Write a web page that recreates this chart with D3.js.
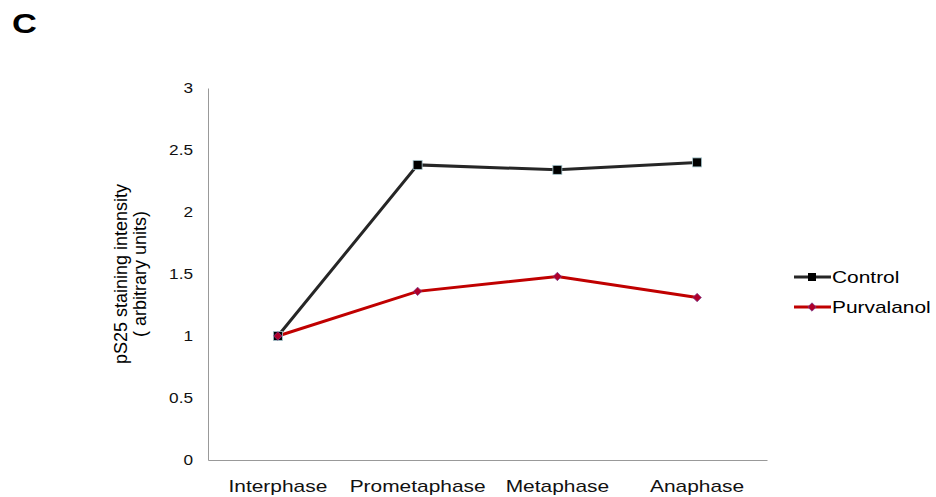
<!DOCTYPE html>
<html><head><meta charset="utf-8">
<script src="https://cdn.jsdelivr.net/npm/d3@7"></script>
<style>body{margin:0;background:#fff;}svg{display:block;font-family:"Liberation Sans",Arial,sans-serif;}</style>
</head><body>
<svg id="c" width="936" height="497"></svg>
<script>
const categories = ["Interphase","Prometaphase","Metaphase","Anaphase"];
const control = [1.0, 2.38, 2.34, 2.40];
const purvalanol = [1.0, 1.36, 1.48, 1.31];
const yTicks = [0,0.5,1,1.5,2,2.5,3];
const seriesNames = ["Control","Purvalanol"];

const K = 1.23; // horizontal stretch of text in the reference
const svg = d3.select("#c");
const x = d3.scaleBand().domain(categories).range([208,767]);
const y = d3.scaleLinear().domain([0,3]).range([460,88]);
const cx = d => x(d)+x.bandwidth()/2;
function stretch(t, ax){ t.attr("transform",`translate(${ax},0) scale(${K},1) translate(${-ax},0)`); }

svg.append("text").attr("x",12).attr("y",33).attr("font-size",28).attr("font-weight","bold").text("C").call(stretch,12);

// axes
const ya = svg.append("g").attr("transform","translate(208,0)")
  .call(d3.axisLeft(y).tickValues(yTicks).tickSize(0).tickPadding(15).tickFormat(d3.format("")));
ya.select(".domain").attr("stroke","#999");
ya.selectAll("text").attr("font-size",14).attr("fill","#111").attr("font-family","Liberation Sans, Arial, sans-serif")
  .attr("transform",`translate(-15,0) scale(${K},1) translate(15,0)`);
const xa = svg.append("g").attr("transform","translate(0,460)")
  .call(d3.axisBottom(x).tickSize(0).tickPadding(20));
xa.select(".domain").attr("stroke","#999");
xa.selectAll("text").attr("font-size",17).attr("fill","#111").attr("font-family","Liberation Sans, Arial, sans-serif")
  .attr("transform",`scale(${K},1)`);

// y title
const yt = svg.append("text").attr("transform","translate(127,274) rotate(-90)").attr("text-anchor","middle").attr("font-size",18).attr("fill","#000");
yt.append("tspan").attr("x",0).attr("dy",0).text("pS25 staining intensity");
yt.append("tspan").attr("x",0).attr("dy",19).text("( arbitrary units)");

const line = d3.line().x((d,i)=>cx(categories[i])).y(d=>y(d));
const colors = ["#262626","#c00000"];
[control,purvalanol].forEach((s,k)=>{
  svg.append("path").datum(s).attr("d",line).attr("fill","none").attr("stroke",colors[k]).attr("stroke-width",3);
});
// markers
svg.selectAll(".sq").data(control).enter().append("rect")
  .attr("x",(d,i)=>cx(categories[i])-4.5).attr("y",d=>y(d)-4.5).attr("width",9).attr("height",9)
  .attr("fill","#000").attr("stroke","#a8c8d0").attr("stroke-width",0.8);
const dia = d3.symbol().type(d3.symbolDiamond2).size(45);
svg.selectAll(".di").data(purvalanol).enter().append("path")
  .attr("d",dia).attr("transform",(d,i)=>`translate(${cx(categories[i])},${y(d)})`)
  .attr("fill","#b0002a").attr("stroke","#7a3a8a").attr("stroke-width",0.8);

// legend
const lg = svg.append("g");
const ly = [277,307];
seriesNames.forEach((n,k)=>{
  lg.append("line").attr("x1",794).attr("x2",831).attr("y1",ly[k]).attr("y2",ly[k]).attr("stroke",colors[k]).attr("stroke-width",3);
  if(k===0) lg.append("rect").attr("x",808).attr("y",ly[k]-4).attr("width",8).attr("height",8).attr("fill","#000");
  else lg.append("path").attr("d",dia).attr("transform",`translate(812,${ly[k]})`).attr("fill","#b0002a").attr("stroke","#7a3a8a").attr("stroke-width",0.8);
  lg.append("text").attr("x",832).attr("y",ly[k]+6).attr("font-size",17).attr("fill","#000").text(n).call(stretch,832);
});
</script>
</body></html>
